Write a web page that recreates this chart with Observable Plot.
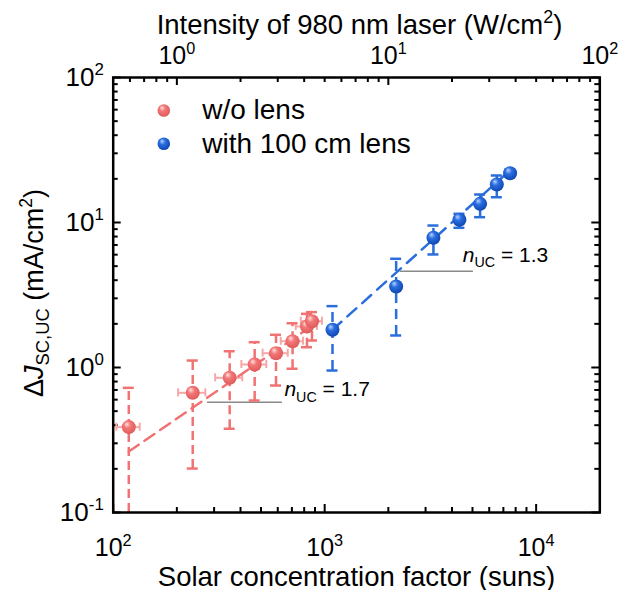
<!DOCTYPE html>
<html><head><meta charset="utf-8">
<script src="https://cdn.jsdelivr.net/npm/d3@7"></script>
<script src="https://cdn.jsdelivr.net/npm/@observablehq/plot@0.6"></script>
<style>
body{margin:0;background:#fff;}
#chart svg{font-family:"Liberation Sans",Arial,sans-serif;display:block;}
</style>
</head><body><div id="chart"></div>
<script>
// ---------- data ----------
const seriesNames = ["w/o lens", "with 100 cm lens"];

// w/o lens (red)
const redSuns    = [118.5, 237.7, 355.5, 466.6, 588.8, 705, 824.8, 871];
const redSunsErr = [15, 35, 52, 63, 80, 85, 95, 100];
const redJ       = [0.388, 0.669, 0.849, 1.049, 1.255, 1.518, 1.918, 2.086];
const redJLo     = [0.08, 0.201, 0.378, 0.592, 0.751, 0.98, 1.38, 1.535];
const redJHi     = [0.724, 1.117, 1.295, 1.495, 1.681, 2.02, 2.345, 2.41];

// with 100 cm lens (blue)
const blueSuns = [1089, 2178, 3268, 4337, 5433, 6516, 7530];
const blueJ    = [1.82, 3.62, 7.85, 10.44, 13.45, 18.28, 21.88];
const blueJLo  = [0.953, 1.663, 6.02, 9.19, 10.88, 14.94, 20.75];
const blueJHi  = [2.65, 5.62, 9.53, 11.48, 15.6, 21.1, 23.08];

// power-law fit lines (end points)
const redFitSuns  = [118.5, 933];
const redFitJ     = [0.2635, 2.076];
const blueFitSuns = [1089, 7700];
const blueFitJ    = [1.82, 23.6];

// slope annotations
const slopeLabels    = ["*n*_{UC} = 1.7", "*n*_{UC} = 1.3"];
const slopeRuleJ     = [0.576, 4.61];
const slopeRuleFrom  = [279, 2275];
const slopeRuleTo    = [631, 5050];
const slopeTextSuns  = [645, 4500];
const slopeTextJ     = [0.631, 5.33];

// axes
const xTickValues   = [100, 1000, 10000];
const xTickLabels   = ["10^{2}", "10^{3}", "10^{4}"];
const yTickValues   = [0.1, 1, 10, 100];
const yTickLabels   = ["10^{-1}", "10^{0}", "10^{1}", "10^{2}"];
const topTickValues = [1, 10, 100];           // W/cm^2
const topTickLabels = ["10^{0}", "10^{1}", "10^{2}"];
const sunsPerWcm2   = 200;
const xDomain = [100, 20000];
const yDomain = [0.1, 100];
const xTitle   = "Solar concentration factor (suns)";
const yTitle   = "Δ*J*_{SC,UC} (mA/cm^{2})";
const topTitle = "Intensity of 980 nm laser (W/cm^{2})";

// ---------- build ----------
const W = 623, H = 590;
const mL = 112.7, mR = 23.7, mT = 77, mB = 78;
const fW = W - mL - mR, fH = H - mT - mB;
const RED = "#f07272", RED_LIGHT = "#f6a8a8", BLUE = "#2a6edc";

function minors(lo, hi) {
  const out = [];
  for (let e = Math.floor(Math.log10(lo)); e <= Math.ceil(Math.log10(hi)); e++)
    for (let k = 2; k <= 9; k++) { const v = k * 10 ** e; if (v > lo * 1.001 && v < hi * 0.999) out.push(v); }
  return out;
}
const xMinor = minors(xDomain[0], xDomain[1]);
const yMinor = minors(yDomain[0], yDomain[1]);
const topMajor = topTickValues.map(v => v * sunsPerWcm2);
const topMinor = minors(xDomain[0] / sunsPerWcm2, xDomain[1] / sunsPerWcm2).map(v => v * sunsPerWcm2);

const red = redSuns.map((s, i) => ({s, e: redSunsErr[i], j: redJ[i], lo: redJLo[i], hi: redJHi[i]}));
const blue = blueSuns.map((s, i) => ({s, j: blueJ[i], lo: blueJLo[i], hi: blueJHi[i]}));
const redFit = redFitSuns.map((s, i) => ({s, j: redFitJ[i]}));
const blueFit = blueFitSuns.map((s, i) => ({s, j: blueFitJ[i]}));
const slopes = slopeLabels.map((t, i) => ({t, y: slopeRuleJ[i], x1: slopeRuleFrom[i], x2: slopeRuleTo[i], tx: slopeTextSuns[i], ty: slopeTextJ[i]}));

const lbl = (vals, labels) => d => labels[vals.findIndex(v => Math.abs(v - d) / v < 1e-6)];

const marks = [
  // slope guide lines
  Plot.ruleY(slopes, {y: "y", x1: "x1", x2: "x2", stroke: "#8a8a8a", strokeWidth: 1.6}),
  // ticks (inward)
  Plot.tickX(xTickValues, {x: d => d, insetTop: fH - 8, stroke: "#000", strokeWidth: 2}),
  Plot.tickX(xMinor, {x: d => d, insetTop: fH - 5, stroke: "#000", strokeWidth: 2}),
  Plot.tickX(topMajor, {x: d => d, insetBottom: fH - 8, stroke: "#000", strokeWidth: 2}),
  Plot.tickX(topMinor, {x: d => d, insetBottom: fH - 5, stroke: "#000", strokeWidth: 2}),
  Plot.tickY(yTickValues, {y: d => d, insetRight: fW - 8, stroke: "#000", strokeWidth: 2}),
  Plot.tickY(yMinor, {y: d => d, insetRight: fW - 5, stroke: "#000", strokeWidth: 2}),
  Plot.tickY(yTickValues, {y: d => d, insetLeft: fW - 8, stroke: "#000", strokeWidth: 2}),
  Plot.tickY(yMinor, {y: d => d, insetLeft: fW - 5, stroke: "#000", strokeWidth: 2}),
  // tick labels
  Plot.axisX(xTickValues, {anchor: "bottom", tickSize: 0, tickPadding: 26, tickFormat: lbl(xTickValues, xTickLabels), fontSize: 25, label: null, fill: "#000"}),
  Plot.axisX(topMajor, {anchor: "top", tickSize: 0, tickPadding: 14, tickFormat: lbl(topMajor, topTickLabels), fontSize: 25, label: null, fill: "#000"}),
  Plot.axisY(yTickValues, {anchor: "left", tickSize: 0, tickPadding: 9.4, tickFormat: lbl(yTickValues, yTickLabels), fontSize: 26, label: null, fill: "#000"}),
  // red error bars
  Plot.ruleY(red, {y: "j", x1: d => d.s - d.e, x2: d => d.s + d.e, stroke: RED_LIGHT, strokeWidth: 2}),
  Plot.ruleX(red, {x: d => d.s - d.e, y1: "j", y2: "j", insetTop: -4, insetBottom: -4, stroke: RED_LIGHT, strokeWidth: 2}),
  Plot.ruleX(red, {x: d => d.s + d.e, y1: "j", y2: "j", insetTop: -4, insetBottom: -4, stroke: RED_LIGHT, strokeWidth: 2}),
  Plot.ruleX(red, {x: "s", y1: "lo", y2: "hi", stroke: RED, strokeWidth: 2.5, strokeDasharray: "9,5", clip: true}),
  Plot.ruleY(red.filter(d => d.lo > yDomain[0]), {y: "lo", x1: "s", x2: "s", insetLeft: -5.5, insetRight: -5.5, stroke: RED, strokeWidth: 2.5}),
  Plot.ruleY(red, {y: "hi", x1: "s", x2: "s", insetLeft: -5.5, insetRight: -5.5, stroke: RED, strokeWidth: 2.5}),
  // blue error bars
  Plot.ruleX(blue, {x: "s", y1: "lo", y2: "hi", stroke: BLUE, strokeWidth: 2.5, strokeDasharray: "10,6"}),
  Plot.ruleY(blue, {y: "lo", x1: "s", x2: "s", insetLeft: -5.5, insetRight: -5.5, stroke: BLUE, strokeWidth: 2.5}),
  Plot.ruleY(blue, {y: "hi", x1: "s", x2: "s", insetLeft: -5.5, insetRight: -5.5, stroke: BLUE, strokeWidth: 2.5}),
  // fit lines
  Plot.line(redFit, {x: "s", y: "j", stroke: RED, strokeWidth: 2.5, strokeDasharray: "12,7"}),
  Plot.line(blueFit, {x: "s", y: "j", stroke: BLUE, strokeWidth: 2.5, strokeDasharray: "12,8"}),
  // points
  Plot.dot(red, {x: "s", y: "j", r: 7, fill: "url(#ballRed)", stroke: "none"}),
  Plot.dot(blue, {x: "s", y: "j", r: 7, fill: "url(#ballBlue)", stroke: "none"}),
  // slope labels
  Plot.text(slopes, {x: "tx", y: "ty", text: "t", textAnchor: "start", lineAnchor: "bottom", fontSize: 21, fill: "#000"}),
  // axis titles
  Plot.text([xTitle], {text: d => d, frameAnchor: "bottom", dy: 73, textAnchor: "middle", lineAnchor: "bottom", fontSize: 27.5, fill: "#000"}),
  Plot.text([topTitle], {text: d => d, frameAnchor: "top", dx: 3, dy: -44, textAnchor: "middle", lineAnchor: "bottom", fontSize: 27.5, fill: "#000"}),
  Plot.text([yTitle], {text: d => d, frameAnchor: "left", dx: -70.7, dy: -2, rotate: -90, textAnchor: "middle", lineAnchor: "bottom", fontSize: 27, fill: "#000"}),
  Plot.frame({stroke: "#000", strokeWidth: 2.5})
];

// legend
const ballIds = ["ballRed", "ballBlue"];
seriesNames.forEach((name, i) => {
  marks.push(Plot.dot([name], {frameAnchor: "top-left", dx: 50.6, dy: 33 + 33.3 * i, r: 6.3, fill: `url(#${ballIds[i]})`, stroke: "none"}));
  marks.push(Plot.text([name], {text: d => d, frameAnchor: "top-left", dx: 89, dy: 33 + 33.3 * i, textAnchor: "start", lineAnchor: "middle", fontSize: 28, fill: "#000"}));
});

const svg = Plot.plot({
  width: W, height: H,
  marginLeft: mL, marginRight: mR, marginTop: mT, marginBottom: mB,
  x: {type: "log", domain: xDomain},
  y: {type: "log", domain: yDomain},
  style: {fontFamily: "'Liberation Sans', Arial, sans-serif", background: "#fff", color: "#000", overflow: "visible"},
  marks
});
document.getElementById("chart").appendChild(svg);

// gradients for the shaded balls
const defs = d3.select(svg).insert("defs", ":first-child");
function ball(id, light, mid, dark) {
  const g = defs.append("radialGradient").attr("id", id)
    .attr("cx", "45%").attr("cy", "40%").attr("r", "60%").attr("fx", "35%").attr("fy", "28%");
  g.append("stop").attr("offset", "0%").attr("stop-color", light);
  g.append("stop").attr("offset", "40%").attr("stop-color", mid);
  g.append("stop").attr("offset", "100%").attr("stop-color", dark);
}
ball("ballRed", "#ffe2e2", "#f37777", "#de5a5a");
ball("ballBlue", "#b8d2ff", "#2a6ee0", "#0f46b0");

// rich text: ^{sup}, _{sub}, *italic*
const NS = "http://www.w3.org/2000/svg";
function rich(el) {
  const src = el.textContent;
  const fs = parseFloat(getComputedStyle(el).fontSize);
  const tokens = src.match(/\^\{[^}]*\}|_\{[^}]*\}|\*[^*]*\*|[^^_*]+/g);
  el.textContent = "";
  let shift = 0;
  for (const tok of tokens) {
    let txt = tok, size = fs, target = 0, italic = false;
    if (tok.startsWith("^{")) { txt = tok.slice(2, -1); size = fs * 0.65; target = -0.4 * fs; }
    else if (tok.startsWith("_{")) { txt = tok.slice(2, -1); size = fs * 0.68; target = 0.24 * fs; }
    else if (tok.startsWith("*")) { txt = tok.slice(1, -1); italic = true; }
    const ts = document.createElementNS(NS, "tspan");
    ts.textContent = txt;
    ts.setAttribute("font-size", size);
    if (target !== shift) { ts.setAttribute("dy", target - shift); shift = target; }
    if (italic) ts.setAttribute("font-style", "italic");
    el.appendChild(ts);
  }
}
svg.querySelectorAll("text").forEach(t => { if (/[{*]/.test(t.textContent)) rich(t); });
</script>
</body></html>
